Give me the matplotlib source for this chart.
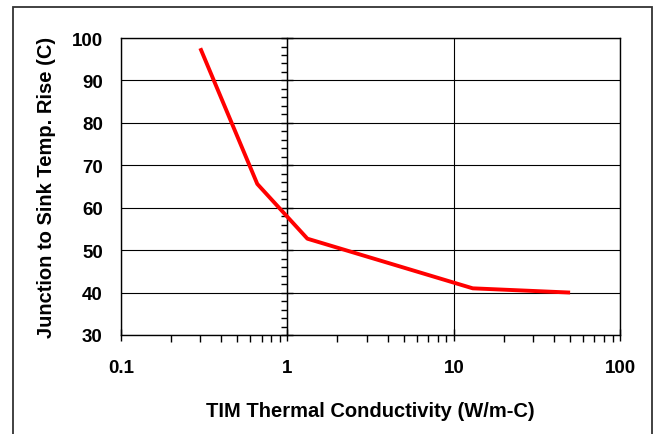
import matplotlib
matplotlib.use("Agg")
import matplotlib.pyplot as plt
from matplotlib.patches import Rectangle
from matplotlib.ticker import MultipleLocator, LogLocator, NullFormatter
import numpy as np

# TIM conductivity (W/m-C) vs junction-to-sink temperature rise (C)
conductivity = [0.3, 0.66, 1.32, 13, 50]
temp_rise = [97.6, 65.6, 52.7, 41.0, 40.0]

x_ticks = [0.1, 1, 10, 100]
x_ticklabels = ['0.1', '1', '10', '100']
y_ticks = [30, 40, 50, 60, 70, 80, 90, 100]

plt.rcParams['font.family'] = ['Liberation Sans', 'DejaVu Sans']
plt.rcParams['font.weight'] = 'bold'

fig = plt.figure(figsize=(6.57, 4.35), dpi=100)
ax = fig.add_axes([0.184, 0.2276, 0.760, 0.6827])

ax.plot(conductivity, temp_rise, color='#ff0000', lw=2.8, solid_capstyle='butt', zorder=5)

ax.set_xscale('log')
ax.set_xlim(0.1, 100)
ax.set_ylim(30, 100)

ax.set_xticks(x_ticks)
ax.set_xticklabels(x_ticklabels)
ax.xaxis.set_minor_locator(LogLocator(base=10, subs=np.arange(2, 10)))
ax.xaxis.set_minor_formatter(NullFormatter())
ax.set_yticks(y_ticks)

ax.tick_params(axis='x', which='major', direction='inout', length=8, width=1, pad=13, labelsize=13.5)
ax.tick_params(axis='x', which='minor', direction='out', length=5, width=1)
ax.tick_params(axis='y', which='major', length=0, pad=13, labelsize=13.5)

# grid: horizontal at every 10, vertical at decades
ax.grid(True, which='major', axis='y', color='black', lw=0.8)
ax.grid(True, which='major', axis='x', color='black', lw=0.8)
for s in ax.spines.values():
    s.set_linewidth(1.0)
    s.set_color('black')

# y-axis crossing at x = 1
sec = ax.secondary_yaxis(1 / 3)
sec.set_yticks(y_ticks)
sec.yaxis.set_minor_locator(MultipleLocator(2))
sec.tick_params(which='major', direction='inout', length=8, width=1, labelleft=False, labelright=False)
sec.tick_params(which='minor', direction='out', length=4, width=1)
sec.spines['left'].set_linewidth(1.0)
sec.spines['right'].set_linewidth(1.0)

ax.set_xlabel('TIM Thermal Conductivity (W/m-C)', fontsize=14.5, fontweight='bold', labelpad=18)
ax.set_ylabel('Junction to Sink Temp. Rise (C)', fontsize=14.5, fontweight='bold', labelpad=11)

# outer chart border
fig.patches.append(Rectangle((13 / 657, -0.05), (652 - 13) / 657, 0.05 + (435 - 8) / 435,
                             transform=fig.transFigure, fill=False, ec='#333333', lw=1.3))

fig.savefig('out.png', dpi=100)
